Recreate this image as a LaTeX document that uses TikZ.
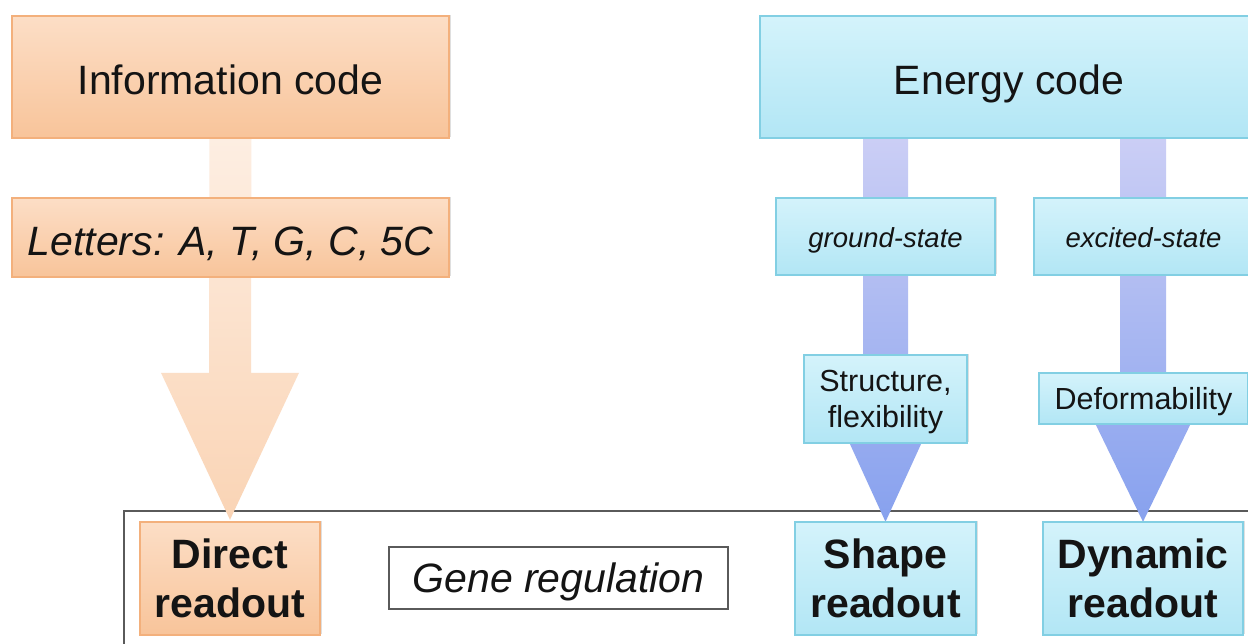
\documentclass[tikz,border=0pt]{standalone}
\usepackage{fontspec}
\setmainfont{Liberation Sans}
\usetikzlibrary{calc,shadows}
\definecolor{orTop}{HTML}{FCDEC6}
\definecolor{orBot}{HTML}{F8C49A}
\definecolor{orBord}{HTML}{F3B07C}
\definecolor{blTop}{HTML}{D4F3FB}
\definecolor{blBot}{HTML}{B2E6F5}
\definecolor{blBord}{HTML}{82CFE3}
\definecolor{arOrTop}{HTML}{FDEEE2}
\definecolor{arOrBot}{HTML}{FAD4B5}
\definecolor{arBlTop}{HTML}{CBCEF5}
\definecolor{arBlBot}{HTML}{87A1EE}
\definecolor{frameGray}{HTML}{5A5A5A}
\definecolor{txt}{HTML}{141414}
\tikzset{
  boxbase/.style={inner sep=0pt, align=center, text=txt,
    drop shadow={shadow xshift=1.5pt, shadow yshift=1.5pt, opacity=0.25}},
  orangebox/.style={boxbase, draw=orBord, line width=1.3pt, top color=orTop, bottom color=orBot},
  bluebox/.style={boxbase, draw=blBord, line width=1.3pt, top color=blTop, bottom color=blBot},
  plainbox/.style={inner sep=0pt, align=center, text=txt, draw=frameGray, line width=1.2pt, fill=white},
  bigfont/.style={font=\fontsize{41}{49}\selectfont, text height=35.3pt, text depth=0pt},
  bigital/.style={font=\fontsize{41}{49}\selectfont\itshape, text height=35.3pt, text depth=0pt},
  bigbold/.style={font=\fontsize{41}{49}\selectfont\bfseries},
  smallital/.style={font=\fontsize{27.5}{33}\selectfont\itshape, text height=22pt, text depth=0pt},
  midfont/.style={font=\fontsize{30.5}{36}\selectfont},
  orarrow/.style={top color=arOrTop, bottom color=arOrBot, draw=none},
  blarrow/.style={top color=arBlTop, bottom color=arBlBot, draw=none},
  frameline/.style={draw=frameGray, line width=1.4pt}
}
\begin{document}
\begin{tikzpicture}[x=1pt,y=-1pt]
\useasboundingbox[fill=white] (0,0) rectangle (1248,643);

% frame of the gene regulation area
\draw[frameline] (124,660) -- (124,511) -- (1260,511);

% node placeholders (arrows refer to them; visible boxes drawn on top)
\path
  (230.5,77)   node[minimum width=437pt, minimum height=122pt] (info) {}
  (230.5,237.5) node[minimum width=437pt, minimum height=79pt] (letters) {}
  (1009,77)    node[minimum width=498pt, minimum height=122pt] (energy) {}
  (885.5,236.5) node[minimum width=219pt, minimum height=77pt] (ground) {}
  (1143.5,236.5) node[minimum width=219pt, minimum height=77pt] (excited) {}
  (885.5,399)  node[minimum width=163pt, minimum height=88pt] (struct) {}
  (1143.5,398.5) node[minimum width=209pt, minimum height=51pt] (deform) {}
  (230,578.5)  node[minimum width=180pt, minimum height=113pt] (direct) {}
  (558.5,578)  node[minimum width=339pt, minimum height=62pt] (gene) {}
  (885.5,578.5) node[minimum width=181pt, minimum height=113pt] (shape) {}
  (1143,578.5) node[minimum width=200pt, minimum height=113pt] (dynamic) {};

% block arrows
\path[orarrow] ($(info.south)+(-21,0)$) -- ($(direct.north)+(-21,-149)$)
  -- ($(direct.north)+(-69,-149)$) -- ($(direct.north)+(0,-2)$)
  -- ($(direct.north)+(69,-149)$) -- ($(direct.north)+(21,-149)$)
  -- ($(info.south)+(21,0)$) -- cycle;
\path[blarrow] ($(shape.north |- energy.south)+(-22.5,0)$) -- ($(shape.north)+(-22.5,-105)$)
  -- ($(shape.north)+(-48,-105)$) -- (shape.north)
  -- ($(shape.north)+(48,-105)$) -- ($(shape.north)+(22.5,-105)$)
  -- ($(shape.north |- energy.south)+(22.5,0)$) -- cycle;
\path[blarrow] ($(dynamic.north |- energy.south)+(-23,0)$) -- ($(dynamic.north)+(-23,-144)$)
  -- ($(dynamic.north)+(-70,-144)$) -- (dynamic.north)
  -- ($(dynamic.north)+(70,-144)$) -- ($(dynamic.north)+(23,-144)$)
  -- ($(dynamic.north |- energy.south)+(23,0)$) -- cycle;

% visible boxes
\node[orangebox, bigfont, minimum width=437pt, minimum height=122pt] at (info) {Information code};
\node[orangebox, bigital, minimum width=437pt, minimum height=79pt] at (letters) {Letters: A, T, G, C, 5C};
\node[bluebox, bigfont, minimum width=498pt, minimum height=122pt] at (energy) {Energy code};
\node[bluebox, smallital, minimum width=219pt, minimum height=77pt] at (ground) {ground-state};
\node[bluebox, smallital, minimum width=219pt, minimum height=77pt] at (excited) {excited-state};
\node[bluebox, midfont, text depth=0pt, minimum width=163pt, minimum height=88pt] at (struct) {Structure,\\flexibility};
\node[bluebox, midfont, text height=22.5pt, text depth=0pt, minimum width=209pt, minimum height=51pt] at (deform) {Deformability};
\node[orangebox, bigbold, minimum width=180pt, minimum height=113pt] at (direct) {Direct\\readout};
\node[plainbox, bigital, text height=29pt, minimum width=339pt, minimum height=62pt] at (gene) {Gene regulation};
\node[bluebox, bigbold, minimum width=181pt, minimum height=113pt] at (shape) {Shape\\readout};
\node[bluebox, bigbold, minimum width=200pt, minimum height=113pt] at (dynamic) {Dynamic\\readout};
\end{tikzpicture}
\end{document}
